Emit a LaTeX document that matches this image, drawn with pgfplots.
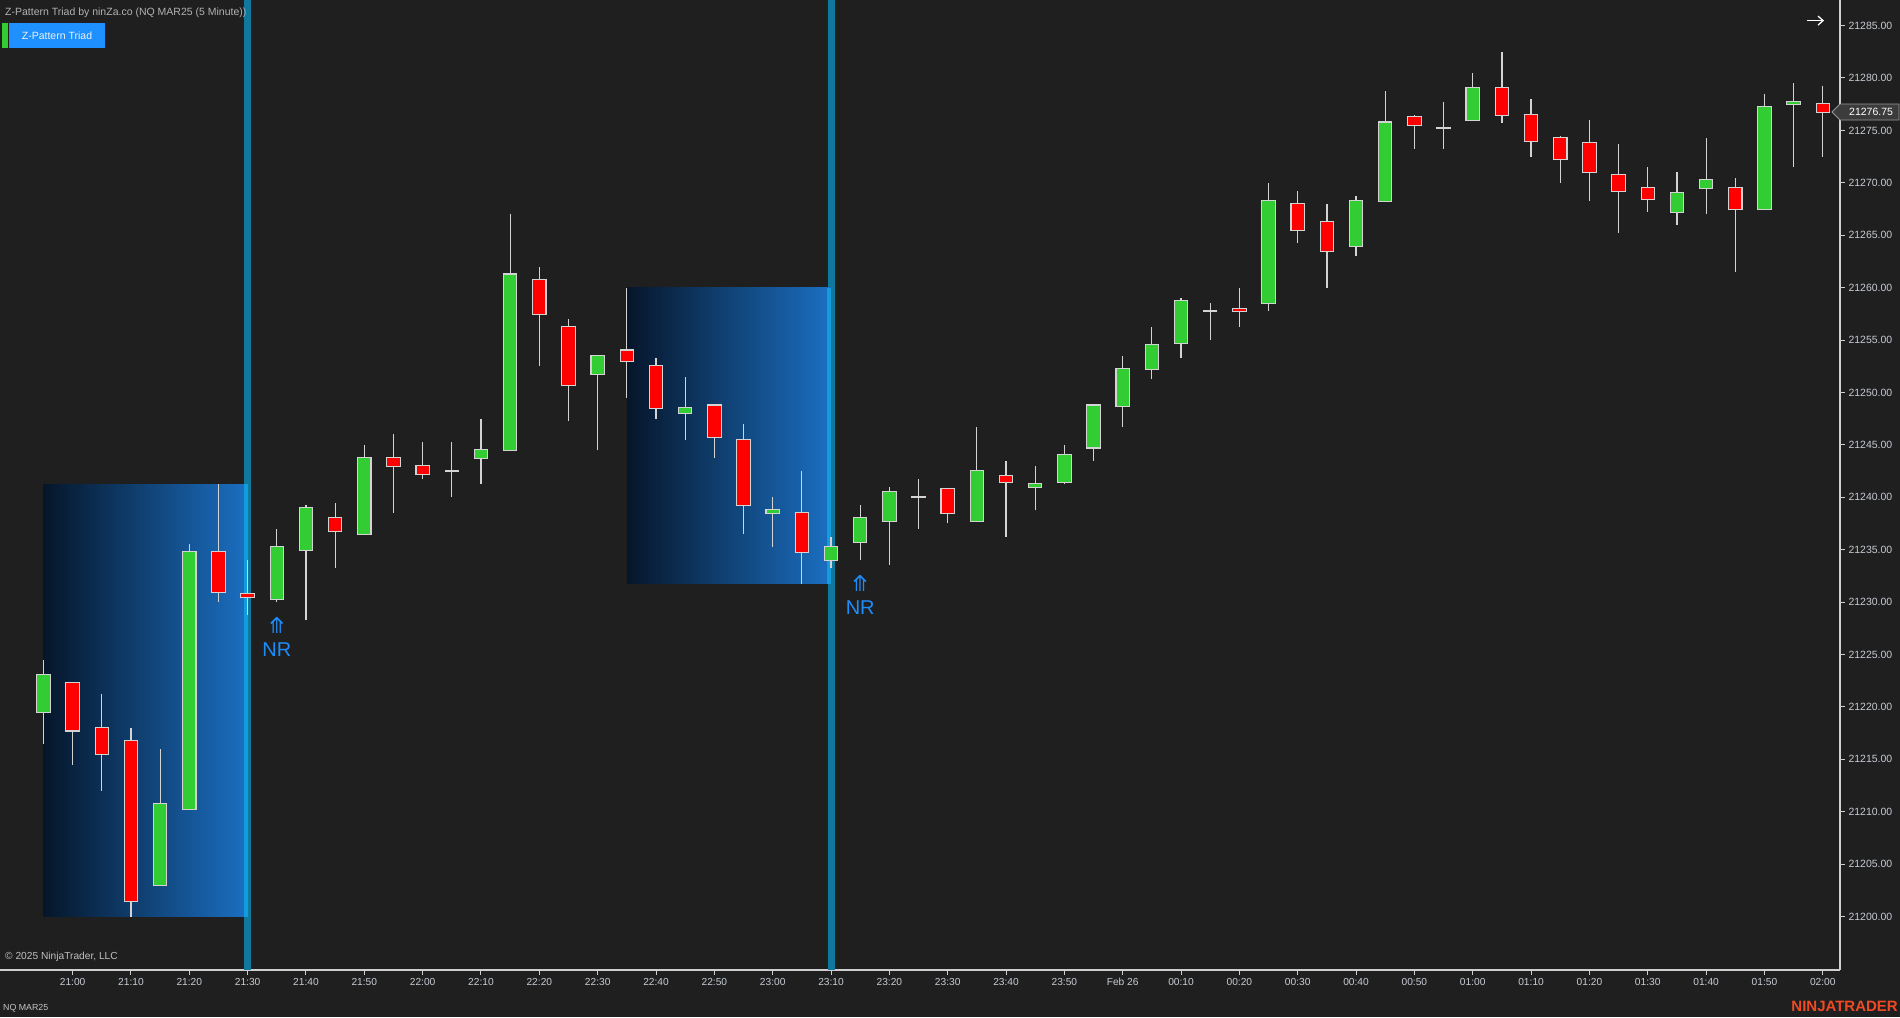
\documentclass[border=0pt]{standalone}
\usepackage{fontspec}
\setmainfont{Liberation Sans}
\newfontfamily\dejavu{DejaVu Sans}
\usepackage{pgfplots}
\usepackage{pgfplotstable}
\pgfplotsset{compat=1.18}
\usetikzlibrary{arrows.meta,calc}

\definecolor{bgc}{HTML}{1F1F1F}
\definecolor{axisc}{HTML}{CFCFCF}
\definecolor{tickc}{HTML}{C6CBD4}
\definecolor{wickc}{HTML}{D3D3D3}
\definecolor{upc}{HTML}{32CD32}
\definecolor{downc}{HTML}{FF0000}
\definecolor{tealc}{HTML}{10789C}
\definecolor{boxL}{HTML}{06162A}
\definecolor{boxR}{HTML}{1B6FC2}
\definecolor{stripc}{HTML}{139BE0}
\definecolor{nrc}{HTML}{1E8CFA}
\definecolor{btnblue}{HTML}{1E90FF}
\definecolor{ninjac}{HTML}{F04A24}
\definecolor{tagc}{HTML}{3C3C3C}

% 5-minute bars, k = 0 is 21:00
\pgfplotstableread{
k o h l c
-1 21219.50 21224.50 21216.50 21223.00
3 21203.00 21216.00 21203.00 21210.75
4 21210.25 21235.50 21210.25 21234.75
7 21230.25 21237.00 21230.00 21235.25
8 21235.00 21239.25 21228.25 21239.00
10 21236.50 21245.00 21236.50 21243.75
13 21242.50 21245.25 21240.00 21242.50
14 21243.75 21247.50 21241.25 21244.50
15 21244.50 21267.00 21244.50 21261.25
18 21251.75 21253.50 21244.50 21253.50
21 21248.00 21251.50 21245.50 21248.50
24 21238.50 21240.00 21235.25 21238.75
26 21234.00 21236.25 21233.25 21235.25
27 21235.75 21239.25 21234.00 21238.00
28 21237.75 21241.00 21233.50 21240.50
29 21240.00 21241.75 21237.00 21240.00
31 21237.75 21246.75 21237.75 21242.50
33 21241.00 21243.00 21238.75 21241.25
34 21241.50 21245.00 21241.25 21244.00
35 21244.75 21248.75 21243.50 21248.75
36 21248.75 21253.50 21246.75 21252.25
37 21252.25 21256.25 21251.25 21254.50
38 21254.75 21259.00 21253.25 21258.75
39 21257.75 21258.50 21255.00 21257.75
41 21258.50 21270.00 21257.75 21268.25
44 21264.00 21268.75 21263.00 21268.25
45 21268.25 21278.75 21268.25 21275.75
47 21275.25 21277.75 21273.25 21275.25
48 21276.00 21280.50 21276.00 21279.00
55 21267.25 21271.00 21266.00 21269.00
56 21269.50 21274.25 21267.00 21270.25
58 21267.50 21278.50 21267.50 21277.25
59 21277.50 21279.50 21271.50 21277.75
}\upbars

\pgfplotstableread{
k o h l c
0 21222.25 21222.25 21214.50 21217.75
1 21218.00 21221.25 21212.00 21215.50
2 21216.75 21218.00 21200.00 21201.50
5 21234.75 21241.25 21230.00 21231.00
6 21230.75 21234.00 21228.75 21230.50
9 21238.00 21239.50 21233.25 21236.75
11 21243.75 21246.00 21238.50 21243.00
12 21243.00 21245.25 21241.75 21242.25
16 21260.75 21262.00 21252.50 21257.50
17 21256.25 21257.00 21247.25 21250.75
19 21254.00 21260.00 21249.50 21253.00
20 21252.50 21253.25 21247.50 21248.50
22 21248.75 21248.75 21243.75 21245.75
23 21245.50 21247.00 21236.50 21239.25
25 21238.50 21242.50 21231.75 21234.75
30 21240.75 21240.75 21237.50 21238.50
32 21242.00 21243.50 21236.25 21241.50
40 21258.00 21260.00 21256.25 21257.75
42 21268.00 21269.25 21264.25 21265.50
43 21266.25 21268.00 21260.00 21263.50
46 21276.25 21276.50 21273.25 21275.50
49 21279.00 21282.50 21275.75 21276.50
50 21276.50 21278.00 21272.50 21274.00
51 21274.25 21274.50 21270.00 21272.25
52 21273.75 21276.00 21268.25 21271.00
53 21270.75 21273.75 21265.25 21269.25
54 21269.50 21271.50 21267.25 21268.50
57 21269.50 21270.50 21261.50 21267.50
60 21277.50 21279.25 21272.50 21276.75
}\downbars

% wick, outline, then coloured body
\newcommand\candles[2]{%
  \addplot[draw=none, mark=none, error bars/.cd, y dir=plus, y explicit,
    error mark=none, error bar style={draw=wickc, line width=1.2pt}]
    table[x=k, y=l, y error plus expr={\thisrow{h}-\thisrow{l}}] {#1};
  \addplot[draw=none, mark=none, error bars/.cd, y dir=plus, y explicit,
    error mark=none, error bar style={draw=wickc, line width=14.5pt}]
    table[x=k, y expr={min(\thisrow{o},\thisrow{c})-0.1},
      y error plus expr={abs(\thisrow{c}-\thisrow{o})+0.2}] {#1};
  \addplot[draw=none, mark=none, error bars/.cd, y dir=plus, y explicit,
    error mark=none, error bar style={draw=#2, line width=12.3pt}]
    table[x=k, y expr={min(\thisrow{o},\thisrow{c})},
      y error plus expr={abs(\thisrow{c}-\thisrow{o})}] {#1};
}

\begin{document}
\begin{tikzpicture}[x=1pt,y=1pt]
\useasboundingbox (0,0) rectangle (1900,1017);
\fill[bgc] (0,0) rectangle (1900,1017);

\begin{axis}[
    at={(0pt,47pt)}, anchor=south west,
    width=1840pt, height=970pt, scale only axis,
    xmin=-2.49, xmax=60.59, ymin=21194.9, ymax=21287.44,
    axis x line*=bottom, axis y line*=right,
    axis line style={draw=axisc, line width=1.2pt},
    tick align=outside, major tick length=5pt,
    tick style={draw=axisc, line width=1pt},
    xtick={0,2,...,60},
    xticklabels={21:00,21:10,21:20,21:30,21:40,21:50,22:00,22:10,22:20,22:30,22:40,22:50,23:00,23:10,23:20,23:30,23:40,23:50,Feb 26,00:10,00:20,00:30,00:40,00:50,01:00,01:10,01:20,01:30,01:40,01:50,02:00},
    xticklabel style={font=\fontsize{10.2}{12}\selectfont, text=tickc},
    ytick={21200,21205,...,21285},
    scaled y ticks=false,
    yticklabel style={font=\fontsize{10.5}{12}\selectfont, text=tickc,
      /pgf/number format/fixed, /pgf/number format/fixed zerofill,
      /pgf/number format/precision=2, /pgf/number format/1000 sep={},
      /pgf/number format/assume math mode=true},
]
% pattern zones
\addplot[draw=tealc, line width=7pt] coordinates {(6,21180) (6,21300)};
\addplot[draw=tealc, line width=7pt] coordinates {(26,21180) (26,21300)};
\addplot[draw=none, left color=boxL, right color=boxR] coordinates {(-1,21200) (6,21200) (6,21241.25) (-1,21241.25)} --cycle;
\addplot[draw=none, left color=boxL, right color=boxR] coordinates {(19,21231.75) (26,21231.75) (26,21260) (19,21260)} --cycle;
\addplot[draw=none, fill=stripc] coordinates {(5.87,21200) (6,21200) (6,21241.25) (5.87,21241.25)} --cycle;
\addplot[draw=none, fill=stripc] coordinates {(25.87,21231.75) (26,21231.75) (26,21260) (25.87,21260)} --cycle;

\candles{\upbars}{upc}
\candles{\downbars}{downc}

% NR signals
\node[text=nrc, font=\dejavu\fontsize{22}{22}\selectfont] at (axis cs:7,21227.8) {⤊};
\node[text=nrc, font=\fontsize{20}{20}\selectfont] at (axis cs:7,21225.5) {NR};
\node[text=nrc, font=\dejavu\fontsize{22}{22}\selectfont] at (axis cs:27,21231.8) {⤊};
\node[text=nrc, font=\fontsize{20}{20}\selectfont] at (axis cs:27,21229.5) {NR};

\coordinate (lastp) at (axis cs:60.59,21276.75);
\end{axis}

% last price tag
\filldraw[fill=tagc, draw=gray!80, line width=0.8pt]
  ($(lastp)+(-8,0)$) -- ++(8,8) -- ++(59,0) -- ++(0,-16) -- ++(-59,0) -- cycle;
\node[anchor=west, text=white, inner sep=0, font=\fontsize{10.5}{12}\selectfont] at ($(lastp)+(9,0)$) {21276.75};

% header and footer texts
\node[anchor=west, inner sep=0, text=gray!60!white, font=\fontsize{10.5}{12}\selectfont] at (5,1004.7) {Z-Pattern Triad by ninZa.co (NQ MAR25 (5 Minute))};
\fill[upc] (2,969) rectangle (8,994);
\fill[btnblue] (9,969) rectangle (105,994);
\node[text=white!88!gray, font=\fontsize{10.5}{12}\selectfont] at (57,981.5) {Z-Pattern Triad};
\draw[white, line width=1.3pt, -{Straight Barb[length=5pt,width=9pt]}] (1807,996.4) -- (1824,996.4);
\node[anchor=west, inner sep=0, text=gray!50!white, font=\fontsize{10.2}{12}\selectfont] at (5,59.7) {© 2025 NinjaTrader, LLC};
\node[anchor=west, inner sep=0, text=gray!45!white, font=\fontsize{8.8}{10}\selectfont] at (3,8.7) {NQ MAR25};
\node[anchor=east, inner sep=0, text=ninjac, font=\bfseries\fontsize{15}{15}\selectfont] at (1898,11) {NINJATRADER};
\end{tikzpicture}
\end{document}
